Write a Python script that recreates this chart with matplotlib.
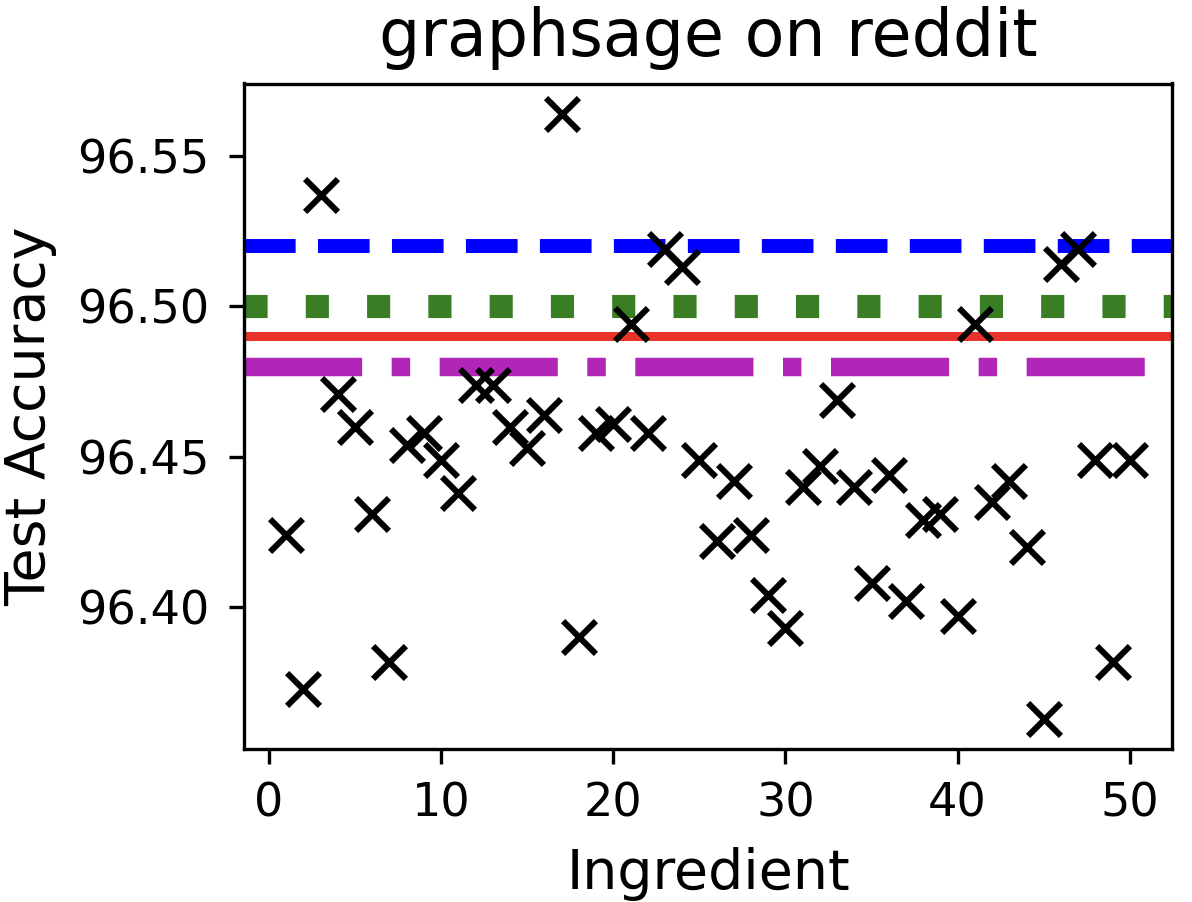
import matplotlib
matplotlib.use("Agg")
import matplotlib.pyplot as plt
import numpy as np

ingredients = list(range(1, 51))
accuracy = [
    96.424, 96.373, 96.537, 96.471, 96.460, 96.431, 96.382, 96.454, 96.458, 96.449,
    96.438, 96.474, 96.474, 96.460, 96.453, 96.464, 96.564, 96.390, 96.458, 96.461,
    96.494, 96.458, 96.519, 96.513, 96.449, 96.422, 96.442, 96.424, 96.404, 96.393,
    96.440, 96.447, 96.469, 96.440, 96.408, 96.444, 96.402, 96.429, 96.431, 96.397,
    96.494, 96.435, 96.442, 96.420, 96.363, 96.514, 96.519, 96.449, 96.382, 96.449,
]

ref_values = [96.52, 96.50, 96.49, 96.48]
ref_colors = ['#0000ff', '#397d24', '#e93429', '#b026b7']
ref_styles = ['--', ':', '-', '-.']
ref_widths = [3.35, 5.55, 2.16, 4.43]

DPI = 300
W, H = 1192, 902
fig = plt.figure(figsize=(W / DPI, H / DPI), dpi=DPI)
ax_l, ax_r, ax_t, ax_b = 244, 1172, 83.5, 749
ax = fig.add_axes([ax_l / W, 1 - ax_b / H, (ax_r - ax_l) / W, (ax_b - ax_t) / H])
ax_h = ax_b - ax_t
ax_w = ax_r - ax_l

ax.scatter(ingredients, accuracy, marker='x', s=62, linewidths=1.45, color='black', zorder=3)
for v, c, ls, lw in zip(ref_values, ref_colors, ref_styles, ref_widths):
    ax.axhline(v, color=c, linestyle=ls, linewidth=lw, zorder=2)

ax.set_yticks([96.40, 96.45, 96.50, 96.55])
ax.set_yticklabels(['96.40', '96.45', '96.50', '96.55'])
ax.set_xticks([0, 10, 20, 30, 40, 50])
ax.tick_params(labelsize=11.1)
ax.tick_params(axis='x', pad=4.3)
ax.tick_params(axis='y', pad=4.7)

ax.set_xlabel('Ingredient', fontsize=13.3, va='baseline')
ax.xaxis.set_label_coords(0.5, (ax_b - 889) / ax_h)
ax.set_ylabel('Test Accuracy', fontsize=13.3, va='baseline')
ax.yaxis.set_label_coords((45.4 - ax_l) / ax_w, 0.5)
ax.set_title('graphsage on reddit', fontsize=15.6, va='baseline',
             y=(ax_b - 56) / ax_h, pad=0)

fig.savefig('out.png', dpi=DPI)
